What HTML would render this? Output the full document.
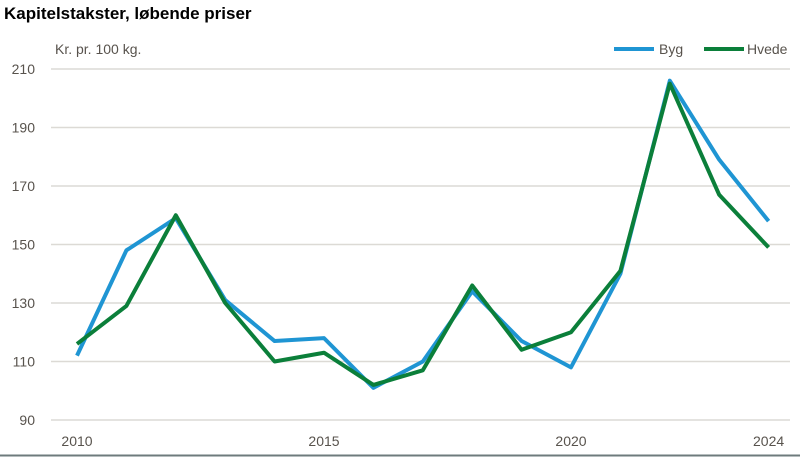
<!DOCTYPE html>
<html><head><meta charset="utf-8"><style>
body{margin:0;width:800px;height:458px;background:#fff;overflow:hidden;font-family:"Liberation Sans",Arial,sans-serif}
</style></head><body>
<svg width="800" height="458">
<text x="4" y="19" font-size="17" font-weight="bold" fill="#000">Kapitelstakster, løbende priser</text>
<text x="55" y="54" font-size="14" fill="#58534d">Kr. pr. 100 kg.</text>
<g id="grid"></g><g id="series"></g>
<g>
<line x1="614" y1="49" x2="654" y2="49" stroke="#1f95d3" stroke-width="4"/>
<text x="659" y="54" font-size="14" fill="#58534d">Byg</text>
<line x1="704" y1="49" x2="744" y2="49" stroke="#0b7f3a" stroke-width="4"/>
<text x="747" y="54" font-size="14" fill="#58534d">Hvede</text>
</g>
<line x1="0" y1="455.5" x2="800" y2="455.5" stroke="#6e7b7c" stroke-width="2"/>
</svg>
<script>
const years=[2010,2011,2012,2013,2014,2015,2016,2017,2018,2019,2020,2021,2022,2023,2024];
const byg=[112,148,159,131,117,118,101,110,134,117,108,140,206,179,158];
const hvede=[116,129,160,130,110,113,102,107,136,114,120,141,205,167,149];
const yTicks=[90,110,130,150,170,190,210];
const xTicks=[2010,2015,2020,2024];
const NS="http://www.w3.org/2000/svg";
const x=v=>77+(v-2010)*49.4;
const y=v=>420-(v-90)*(351/120);
const g=document.getElementById('grid'),s=document.getElementById('series');
function mk(p,t,a){const e=document.createElementNS(NS,t);for(const k in a)e.setAttribute(k,a[k]);p.appendChild(e);return e;}
yTicks.forEach(v=>{
 const l=mk(g,'line',{x1:51,x2:790,y1:y(v),y2:y(v),stroke:'#dcdad5','stroke-width':1.5});
 
 
 const t=mk(g,'text',{x:35,y:y(v)+5,'font-size':14,fill:'#58534d','text-anchor':'end'});t.textContent=v;
 
 
});
xTicks.forEach(v=>{
 const t=mk(g,'text',{x:x(v),y:446,'font-size':14,fill:'#58534d','text-anchor':'middle'});t.textContent=v;
 
 
});
function line(d,c,n){
 const p=mk(s,'polyline',{points:d.map((v,i)=>x(years[i])+','+y(v)).join(' '),fill:'none',stroke:c,'stroke-width':4,'stroke-linejoin':'round'});
 
 
}
line(byg,'#1f95d3','series-byg');
line(hvede,'#0b7f3a','series-hvede');
</script>
</body></html>
